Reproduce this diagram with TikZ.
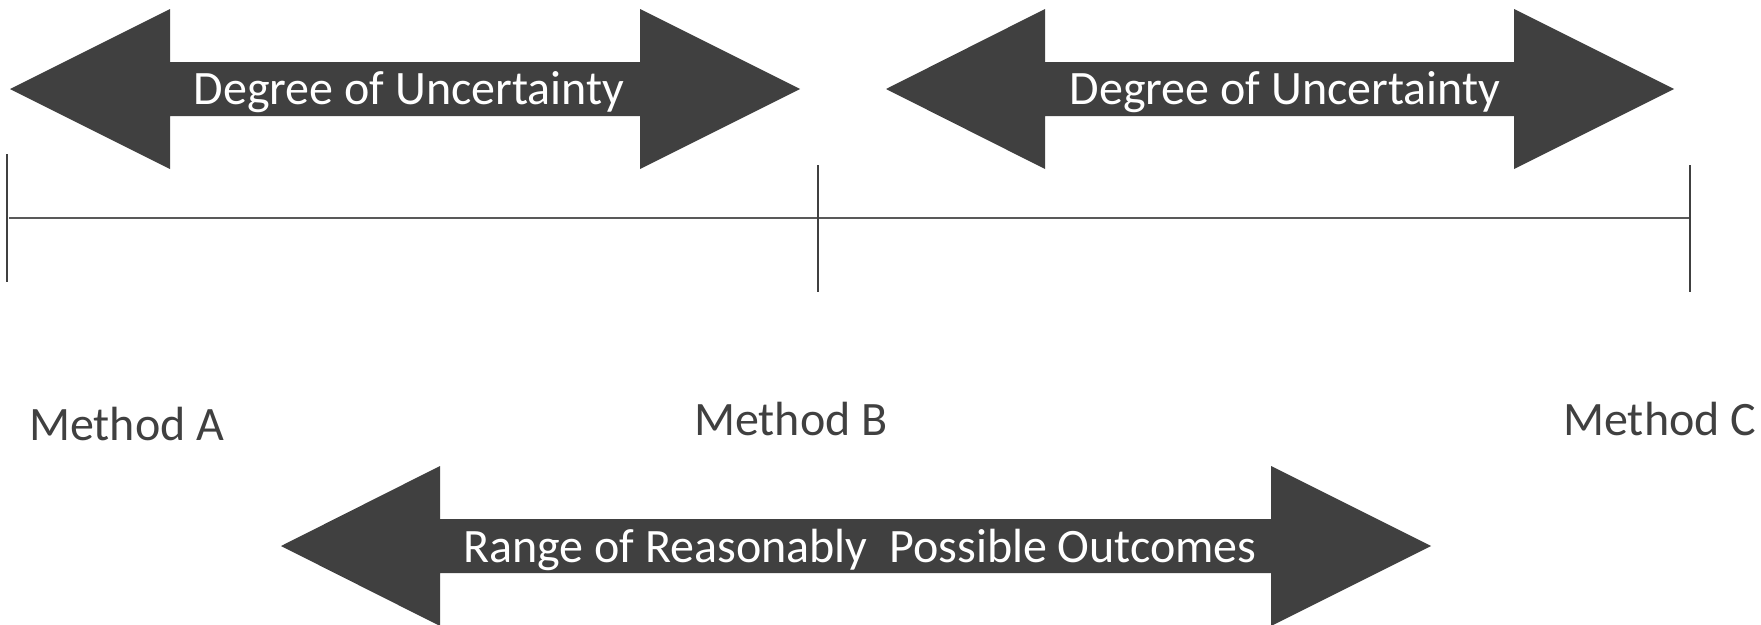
\documentclass[tikz,border=0pt]{standalone}
\usepackage{fontspec}
\setmainfont{Carlito}
\definecolor{arrowgray}{HTML}{404040}
\definecolor{linegray}{HTML}{595959}
\begin{document}
\begin{tikzpicture}[x=1pt,y=-1pt,
  bigarrow/.style={fill=arrowgray,draw=none},
  arrowtext/.style={text=white,inner sep=0pt,anchor=base,font=\fontsize{48}{56}\selectfont},
  methodtext/.style={text=arrowgray,inner sep=0pt,anchor=base west,font=\fontsize{48}{56}\selectfont},
  axis/.style={draw=linegray,line width=2pt},
  tick/.style={draw=arrowgray,line width=1.5pt}]
\useasboundingbox (0,0) rectangle (1761,624);
% arrows
\fill[bigarrow] (10,89)--(170,9)--(170,62)--(640,62)--(640,9)--(800,89)--(640,169)--(640,116)--(170,116)--(170,169)--cycle;
\fill[bigarrow] (886,89)--(1045,9)--(1045,62)--(1514,62)--(1514,9)--(1674,89)--(1514,169)--(1514,116)--(1045,116)--(1045,169)--cycle;
\fill[bigarrow] (281,546)--(440,466)--(440,519)--(1271,519)--(1271,466)--(1431,546)--(1271,626)--(1271,573)--(440,573)--(440,626)--cycle;
\node[arrowtext] (du1) at (409,104) {Degree of Uncertainty};
\node[arrowtext] (du2) at (1285,104) {Degree of Uncertainty};
\node[arrowtext] (rr) at (860,562) {Range of Reasonably\ \ Possible Outcomes};
% axis
\coordinate (l0) at (9,218);
\coordinate (l1) at (1690,218);
\draw[axis] (l0) -- (l1);
\coordinate (ta1) at (7,154); \coordinate (ta2) at (7,282);
\coordinate (tb1) at (818,165); \coordinate (tb2) at (818,292);
\coordinate (tc1) at (1690,165); \coordinate (tc2) at (1690,292);
\draw[tick] (ta1) -- (ta2);
\draw[tick] (tb1) -- (tb2);
\draw[tick] (tc1) -- (tc2);
% labels
\node[methodtext] (ma) at (29,440) {Method A};
\node[methodtext] (mb) at (694,435) {Method B};
\node[methodtext] (mc) at (1563,435) {Method C};
\end{tikzpicture}
\end{document}
